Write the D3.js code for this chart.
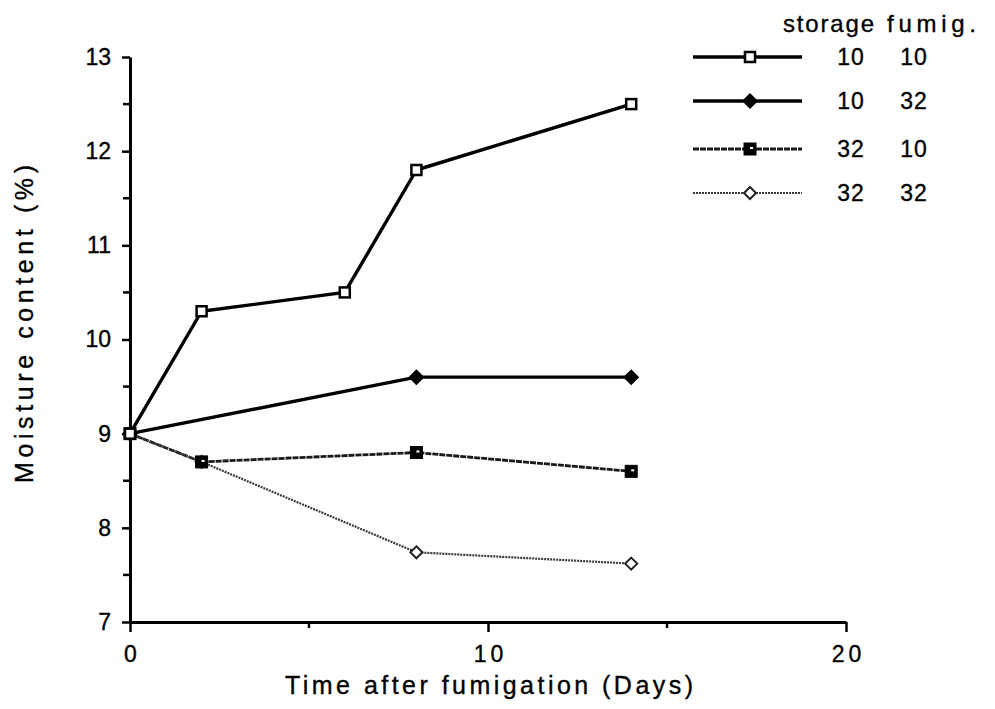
<!DOCTYPE html>
<html>
<head>
<meta charset="utf-8">
<script src="https://cdn.jsdelivr.net/npm/d3@7/dist/d3.min.js"></script>
<style>
  html, body { margin: 0; padding: 0; background: #fff; }
  svg { display: block; }
  svg text { font-family: "Liberation Sans", Arial, Helvetica, sans-serif; fill: #000; stroke: #000; stroke-width: 0.35px; }
</style>
</head>
<body>
<svg id="chart" width="995" height="709"></svg>
<script>
// Moisture content after fumigation, by storage / fumigation temperature
const s10_10 = [[0, 9.0], [2, 10.3], [6, 10.5], [8, 11.8], [14, 12.5]];
const s10_32 = [[0, 9.0], [8, 9.6], [14, 9.6]];
const s32_10 = [[0, 9.0], [2, 8.7], [8, 8.8], [14, 8.6]];
const s32_32 = [[0, 9.0], [2, 8.7], [8, 7.74], [14, 7.62]];

const storageLabels = ["10", "10", "32", "32"];
const fumigLabels = ["10", "32", "10", "32"];
const xTicks = [0, 10, 20];
const xMinorTicks = [5, 15];
const yTicks = [7, 8, 9, 10, 11, 12, 13];
const yMinorTicks = [7.5, 8.5, 9.5, 10.5, 11.5, 12.5];

const svg = d3.select("#chart");
const x = d3.scaleLinear().domain([0, 20]).range([130, 846]);
const y = d3.scaleLinear().domain([7, 13]).range([622, 57]);

// x axis
const xAxis = d3.axisBottom(x).tickValues(xTicks).tickSize(10).tickSizeOuter(0)
  .tickPadding(14).tickFormat(d3.format("d"));
const gx = svg.append("g").attr("transform", `translate(0,${y(7)})`).call(xAxis)
  .attr("font-family", null).attr("font-size", null);
gx.selectAll("line").attr("stroke", "#000").attr("stroke-width", 2.5);
gx.select(".domain").attr("stroke", "#000").attr("stroke-width", 3);
gx.selectAll("text").attr("font-size", 23).attr("letter-spacing", 4).attr("dx", 2);
svg.append("g").selectAll("line").data(xMinorTicks).join("line")
  .attr("x1", d => x(d)).attr("x2", d => x(d))
  .attr("y1", y(7)).attr("y2", y(7) + 6)
  .attr("stroke", "#000").attr("stroke-width", 2.5);

// y axis
const yAxis = d3.axisLeft(y).tickValues(yTicks).tickSize(8).tickSizeOuter(0)
  .tickPadding(11).tickFormat(d3.format("d"));
const gy = svg.append("g").attr("transform", `translate(${x(0)},0)`).call(yAxis)
  .attr("font-family", null).attr("font-size", null);
gy.selectAll("line").attr("stroke", "#000").attr("stroke-width", 2.5);
gy.select(".domain").attr("stroke", "#000").attr("stroke-width", 3);
gy.selectAll("text").attr("font-size", 23);
svg.append("g").selectAll("line").data(yMinorTicks).join("line")
  .attr("x1", x(0) - 7).attr("x2", x(0))
  .attr("y1", d => y(d)).attr("y2", d => y(d))
  .attr("stroke", "#000").attr("stroke-width", 2.5);

// axis titles
svg.append("text").attr("x", 489).attr("y", 694).attr("text-anchor", "middle")
  .attr("font-size", 25).attr("textLength", 408).attr("lengthAdjust", "spacing")
  .text("Time after fumigation (Days)");
svg.append("text").attr("transform", "translate(33,324) rotate(-90)").attr("text-anchor", "middle")
  .attr("font-size", 25).attr("textLength", 318).attr("lengthAdjust", "spacing")
  .text("Moisture content (%)");

// series styles and markers
const series = [
  { data: s10_10, stroke: "#000", width: 3.4, dash: null, marker: "openSquare" },
  { data: s10_32, stroke: "#000", width: 3.4, dash: null, marker: "filledDiamond" },
  { data: s32_10, stroke: "#1a1a1a", width: 2.8, dash: "6,1", marker: "filledSquare" },
  { data: s32_32, stroke: "#3a3a3a", width: 2.2, dash: "2,1", marker: "openDiamond" }
];

function drawMarker(g, type, cx, cy) {
  if (type === "openSquare") {
    g.append("rect").attr("x", cx - 5).attr("y", cy - 5).attr("width", 10).attr("height", 10)
      .attr("fill", "#fff").attr("stroke", "#000").attr("stroke-width", 2.5);
  } else if (type === "filledSquare") {
    g.append("rect").attr("x", cx - 6).attr("y", cy - 6).attr("width", 12).attr("height", 12)
      .attr("fill", "#000").attr("stroke", "#000").attr("stroke-width", 1);
    g.append("rect").attr("x", cx).attr("y", cy - 2).attr("width", 3).attr("height", 2)
      .attr("fill", "#fff");
  } else if (type === "filledDiamond") {
    g.append("path").attr("d", `M${cx},${cy - 8}L${cx + 8},${cy}L${cx},${cy + 8}L${cx - 8},${cy}Z`)
      .attr("fill", "#000");
  } else if (type === "openDiamond") {
    g.append("path").attr("d", `M${cx},${cy - 6}L${cx + 6},${cy}L${cx},${cy + 6}L${cx - 6},${cy}Z`)
      .attr("fill", "#fff").attr("stroke", "#222").attr("stroke-width", 2);
  }
}

const line = d3.line().x(d => x(d[0])).y(d => y(d[1]));
series.forEach(s => {
  svg.append("path").datum(s.data).attr("d", line)
    .attr("fill", "none").attr("stroke", s.stroke).attr("stroke-width", s.width)
    .attr("stroke-dasharray", s.dash).attr("stroke-linejoin", "round");
});
// markers drawn after all lines so they sit on top
series.slice().reverse().forEach(s => {
  const g = svg.append("g");
  s.data.forEach(d => drawMarker(g, s.marker, x(d[0]), y(d[1])));
});

// legend
const leg = svg.append("g");
leg.append("text").attr("x", 783).attr("y", 32).attr("font-size", 24)
  .attr("textLength", 91).attr("lengthAdjust", "spacing").text("storage");
leg.append("text").attr("x", 887).attr("y", 32).attr("font-size", 24)
  .attr("textLength", 89).attr("lengthAdjust", "spacing").text("fumig.");
const rowY = [57, 101, 149, 193];
series.forEach((s, i) => {
  const ry = rowY[i];
  leg.append("line").attr("x1", 693).attr("x2", 802).attr("y1", ry).attr("y2", ry)
    .attr("stroke", s.stroke).attr("stroke-width", s.width).attr("stroke-dasharray", s.dash);
  drawMarker(leg, s.marker, 750, ry);
  leg.append("text").attr("x", 851).attr("y", ry + 8).attr("text-anchor", "middle")
    .attr("font-size", 23).attr("letter-spacing", 1).text(storageLabels[i]);
  leg.append("text").attr("x", 914).attr("y", ry + 8).attr("text-anchor", "middle")
    .attr("font-size", 23).attr("letter-spacing", 1).text(fumigLabels[i]);
});
</script>
</body>
</html>
